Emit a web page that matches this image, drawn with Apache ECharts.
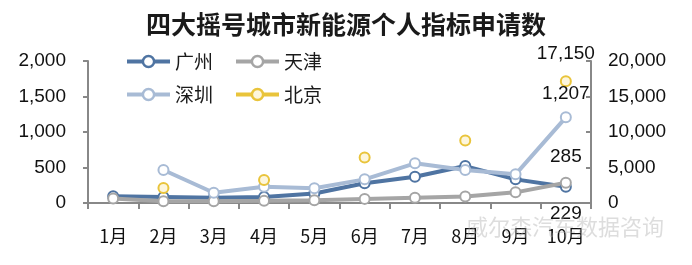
<!DOCTYPE html>
<html><head><meta charset="utf-8">
<script src="https://cdn.jsdelivr.net/npm/echarts@6/dist/echarts.min.js"></script>
<style>html,body{margin:0;padding:0;background:#fff}#c{width:692px;height:265px}</style>
</head><body><div id="c"></div>
<script>
var months = ['1月','2月','3月','4月','5月','6月','7月','8月','9月','10月'];
var guangzhou = [95, 85, 75, 85, 135, 277, 370, 520, 333, 229];
var tianjin = [62, 25, 25, 30, 40, 58, 75, 90, 150, 285];
var shenzhen = [null, 465, 145, 230, 207, 333, 559, 465, 404, 1207];
var beijing = [null, 2100, null, 3250, null, 6400, null, 8800, null, 17150];
var leftTicks = {min: 0, max: 2000, interval: 500};
var rightTicks = {min: 0, max: 20000, interval: 5000};

var FONT = '"Liberation Sans", Arial, "Noto Sans CJK SC", sans-serif';
var CJK = '"Noto Sans CJK SC", "Liberation Sans", sans-serif';
var cols = {gz:'#4f74a2', tj:'#a5a5a5', sz:'#a8bbd5', bj:'#e9c43b'};
var fills = {gz:'#fff', tj:'#fff', sz:'#fff', bj:'#fdf6dc'};

function lastLabel(arr, pos, dist){
  return arr.map(function(v,i){
    if (i === arr.length-1) return {value:v, label:{show:true, position:pos, distance:dist,
      formatter: function(p){return p.value.toLocaleString('en-US');},
      fontFamily:FONT, fontSize:19, color:'#111'}};
    return v;
  });
}
function mkSeries(name, data, key, yIdx, pos, dist){
  var color = cols[key];
  return {name:name, type:'line', yAxisIndex:yIdx, data:lastLabel(data,pos,dist),
    symbol:'circle', symbolSize:10, showAllSymbol:true, connectNulls:false,
    lineStyle:{color:color, width:4}, itemStyle:{color:fills[key], borderColor:color, borderWidth:2},
    emphasis:{disabled:true}};
}
var legendCommon = {left:120, itemWidth:43, itemHeight:14, itemGap:21,
  lineStyle:{width:4}, itemStyle:{borderWidth:2.5},
  textStyle:{fontFamily:CJK, fontSize:19, color:'#1a1a1a'}};
var chart = echarts.init(document.getElementById('c'), null, {renderer:'canvas'});
chart.setOption({
  animation:false,
  title:{text:'四大摇号城市新能源个人指标申请数', left:'center', top:7,
    textStyle:{fontFamily:CJK, fontSize:25, fontWeight:'bold', color:'#1a1a1a'}},
  legend:[
    Object.assign({data:['广州','天津'], top:47}, legendCommon),
    Object.assign({data:['深圳','北京'], top:80}, legendCommon)
  ],
  grid:{left:88, right:101, top:61, bottom:62},
  xAxis:{type:'category', data:months, boundaryGap:true,
    axisLine:{lineStyle:{color:'#888', width:2}},
    axisTick:{show:true, alignWithLabel:false, length:6, lineStyle:{color:'#888', width:2}},
    axisLabel:{fontFamily:CJK, fontSize:18, color:'#111', margin:24, interval:0}},
  yAxis:[
    {type:'value', min:leftTicks.min, max:leftTicks.max, interval:leftTicks.interval, splitLine:{show:false},
     axisLine:{show:true, lineStyle:{color:'#888', width:2}},
     axisTick:{show:true, length:5, lineStyle:{color:'#888', width:2}},
     axisLabel:{fontFamily:FONT, fontSize:19, color:'#111', margin:22,
       formatter:function(v){return v.toLocaleString('en-US');}}},
    {type:'value', min:rightTicks.min, max:rightTicks.max, interval:rightTicks.interval, splitLine:{show:false},
     axisLine:{show:true, lineStyle:{color:'#888', width:2}},
     axisTick:{show:true, inside:true, length:5, lineStyle:{color:'#888', width:2}},
     axisLabel:{fontFamily:FONT, fontSize:19, color:'#111', margin:17,
       formatter:function(v){return v.toLocaleString('en-US');}}}
  ],
  series:[
    mkSeries('广州', guangzhou, 'gz', 0, 'bottom', 12),
    mkSeries('天津', tianjin, 'tj', 0, 'top', 10),
    mkSeries('深圳', shenzhen, 'sz', 0, 'top', 8),
    mkSeries('北京', beijing, 'bj', 1, 'top', 12)
  ],
  graphic:[{type:'text', left:466, top:216, silent:true, z:100,
    style:{text:'威尔森汽车数据咨询', font:'22px "Noto Sans CJK SC"', fill:'rgba(170,170,170,0.4)'}}]
});
</script></body></html>
